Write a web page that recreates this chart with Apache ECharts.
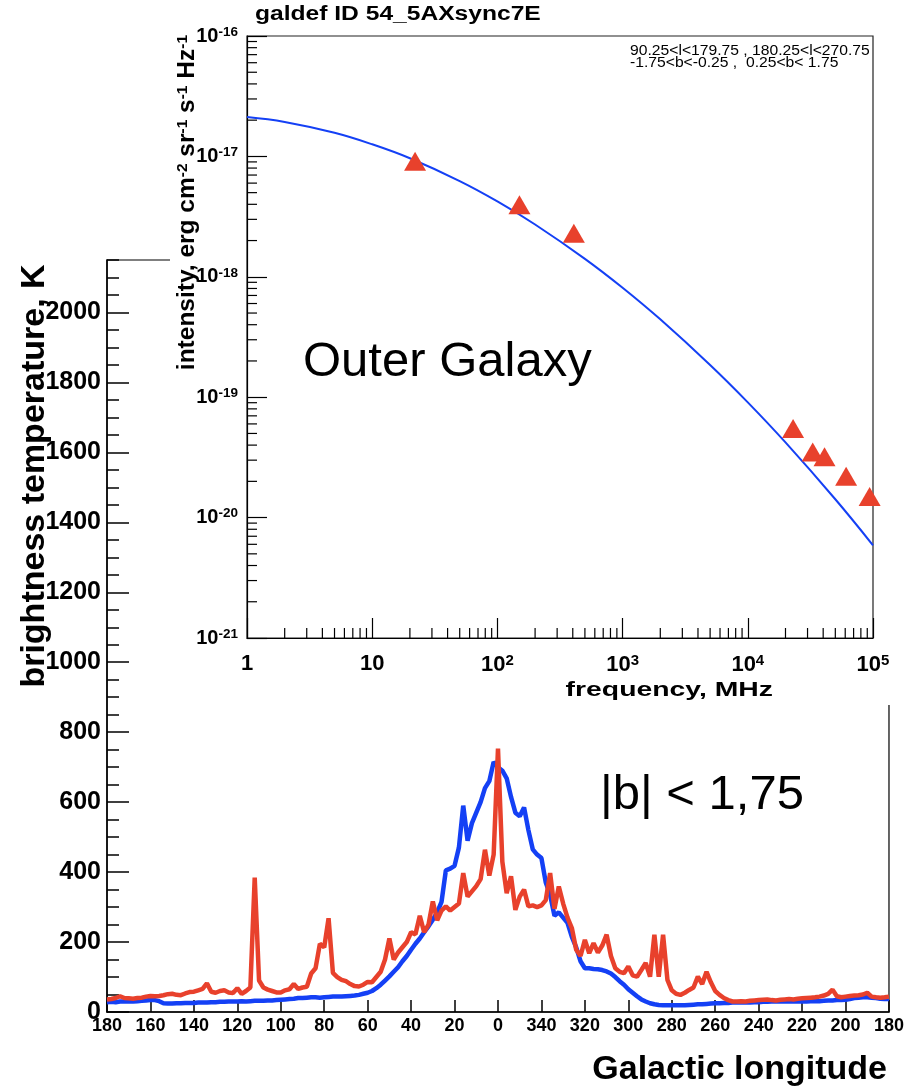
<!DOCTYPE html>
<html><head><meta charset="utf-8">
<script src="https://cdn.jsdelivr.net/npm/echarts@6/dist/echarts.min.js"></script>
<style>
html,body{margin:0;padding:0;background:#fff;}
#main{position:absolute;left:0;top:0;width:907px;height:1090px;}
#inset{position:absolute;left:170px;top:0;width:737px;height:705px;background:#fff;}
</style></head><body>
<div id="main"></div><div id="inset"></div>
<script>
// ---------- background chart data (samples every 2 deg, from l=180 through l=0 to l=180) ----------
const sampleStepDeg = 2;
const longitudeTickLabels = ['180','160','140','120','100','80','60','40','20','0','340','320','300','280','260','240','220','200','180'];
const blueK = [
 28,29,28,30,30,31,30,31,32,33,
 34,34,31,25,24,24,25,25,26,26,
 26,27,27,27,28,28,29,29,30,30,
 30,31,30,31,32,32,32,33,33,34,
 35,36,37,38,40,40,41,42,42,41,
 42,43,44,44,44,45,46,47,49,52,
 55,60,68,78,90,102,115,128,145,160,
 178,195,210,228,245,264,285,315,405,410,
 418,470,590,490,540,570,600,640,660,715,
 700,690,668,615,570,560,585,520,465,450,
 440,370,335,275,285,270,255,215,185,145,
 125,125,123,122,120,116,110,100,88,78,
 65,55,45,36,30,25,22,20,19,19,
 19,19,19,19,20,21,22,22,23,24,
 25,25,26,26,27,27,27,27,27,28,
 28,29,29,30,30,30,30,30,30,30,
 30,30,31,31,31,32,33,33,34,34,
 35,37,40,41,42,42,41,40,38,37,
 37];
const redK = [
 36,37,40,45,40,39,38,40,41,44,
 46,45,46,48,51,52,49,48,53,57,
 58,62,66,82,58,55,60,62,56,54,
 68,52,60,70,384,90,70,64,60,56,
 56,62,65,80,66,70,72,110,125,195,
 185,268,112,100,92,88,80,74,73,78,
 86,85,100,115,150,210,150,170,185,200,
 228,222,275,228,250,316,262,290,302,290,
 300,310,397,330,345,360,380,464,390,450,
 753,430,340,388,292,330,350,302,305,300,
 305,320,397,295,359,310,270,240,178,160,
 206,168,197,170,190,221,160,125,115,111,
 130,105,101,120,140,101,221,101,221,92,
 62,52,49,55,63,70,101,80,115,85,
 60,49,40,34,30,30,31,30,32,33,
 34,35,36,34,33,35,36,37,36,38,
 39,40,41,42,44,47,52,64,45,42,
 44,46,47,48,50,55,44,42,41,42,
 44];

// ---------- inset data ----------
const freqMHz = [1,2,5,10,20,50,100,200,500,1000,2000,5000,1e4,2e4,5e4,1e5];
const modelIntensity = [2.12e-17,1.93e-17,1.57e-17,1.26e-17,9.65e-18,6.24e-18,4.23e-18,2.72e-18,1.41e-18,8.11e-19,4.43e-19,1.85e-19,9.06e-20,4.21e-20,1.42e-20,5.89e-21];
const obsFreqMHz = [22,150,408,23000,33000,41000,61000,94000];
const obsIntensity = [9.1e-18,3.96e-18,2.3e-18,5.5e-20,3.5e-20,3.2e-20,2.2e-20,1.5e-20];
const intensityUnitExp = -21; // axis drawn in units of 1e-21

const RED = '#e8412c';
const BLUE = '#1440f5';
const FONT = 'Liberation Sans, Arial, Helvetica, sans-serif';

// ---------- main chart ----------
const main = echarts.init(document.getElementById('main'), null, {renderer:'canvas'});
main.setOption({
  animation:false,
  backgroundColor:'#fff',
  grid:{left:107, top:260, width:782, height:752, show:true, borderColor:'#000', borderWidth:1.2, backgroundColor:'transparent'},
  xAxis:{type:'value', min:0, max:360, interval:20,
    axisLine:{lineStyle:{color:'#000', width:1.5}},
    axisTick:{inside:true, length:12, lineStyle:{color:'#000', width:1.5}},
    axisLabel:{margin:5, color:'#000', fontFamily:FONT, fontWeight:'bold', fontSize:18,
      formatter:v=>longitudeTickLabels[Math.round(v/20)]},
    splitLine:{show:false}},
  yAxis:[
    {type:'value', min:0, max:2150, interval:200,
      axisLine:{show:true, lineStyle:{color:'#000', width:1.5}},
      axisTick:{inside:true, length:22, lineStyle:{color:'#000', width:1.5}},
      axisLabel:{margin:6, color:'#000', fontFamily:FONT, fontWeight:'bold', fontSize:25, showMaxLabel:false,
        formatter:v=>String(v)},
      splitLine:{show:false}},
    {type:'value', min:0, max:2150, interval:50, position:'left',
      axisLine:{show:false},
      axisTick:{inside:true, length:12, lineStyle:{color:'#000', width:1.5}},
      axisLabel:{show:false}, splitLine:{show:false}}
  ],
  series:[
    {type:'line', name:'blue', showSymbol:false, data:blueK.map((v,i)=>[i*sampleStepDeg, v]),
      lineStyle:{color:BLUE, width:4.5}, itemStyle:{color:BLUE}, z:2},
    {type:'line', name:'red', showSymbol:false, data:redK.map((v,i)=>[i*sampleStepDeg, v]),
      lineStyle:{color:RED, width:4.5}, itemStyle:{color:RED}, z:3}
  ],
  graphic:[
    {type:'text', x:35, y:476, rotation:Math.PI/2,
      style:{text:'brightness temperature, K', font:'bold 34px '+FONT, fill:'#000', align:'center', verticalAlign:'middle'}},
    {type:'text', x:887, y:1070,
      style:{text:'Galactic longitude', font:'bold 34px '+FONT, fill:'#000', align:'right', verticalAlign:'middle'}},
    {type:'text', x:600, y:795,
      style:{text:'|b| < 1,75', font:'49px '+FONT, fill:'#000', align:'left', verticalAlign:'middle'}}
  ]
});

// ---------- inset chart ----------
const inset = echarts.init(document.getElementById('inset'), null, {renderer:'canvas'});
const supRich = {
  b:{fontFamily:FONT, fontWeight:'bold', fontSize:22, color:'#000'},
  sup:{fontFamily:FONT, fontWeight:'bold', fontSize:15, color:'#000', verticalAlign:'top', padding:[0,0,8,0]}
};
const ySupRich = {
  b:{fontFamily:FONT, fontWeight:'bold', fontSize:20, color:'#000'},
  sup:{fontFamily:FONT, fontWeight:'bold', fontSize:13.5, color:'#000', verticalAlign:'top', padding:[0,0,8,0]}
};
const scaleI = v => v / Math.pow(10, intensityUnitExp);
const xMinor = [], yMinor = [];
for (let d=0; d<5; d++) for (let m=2; m<=9; m++) { xMinor.push([m*Math.pow(10,d), 1]); yMinor.push([1, m*Math.pow(10,d)]); }

inset.setOption({
  animation:false,
  grid:{left:77, top:36, width:626, height:602, show:true, borderColor:'#222', borderWidth:1.2, backgroundColor:'#fff'},
  xAxis:{type:'log', logBase:10, min:1, max:1e5,
    axisLine:{lineStyle:{color:'#000', width:1.2}},
    axisTick:{inside:true, length:20, lineStyle:{color:'#000', width:1.2}},
    axisLabel:{margin:15, color:'#000', rich:supRich,
      formatter:v=>{const e=Math.round(Math.log10(v)); return e===0?'{b|1}':(e===1?'{b|10}':'{b|10}{sup|'+e+'}');}},
    splitLine:{show:false}, minorTick:{show:false}},
  yAxis:{type:'log', logBase:10, min:1, max:1e5,
    axisLine:{lineStyle:{color:'#000', width:1.2}},
    axisTick:{inside:true, length:20, lineStyle:{color:'#000', width:1.2}},
    axisLabel:{margin:9, color:'#000', rich:ySupRich,
      formatter:v=>{const e=Math.round(Math.log10(v))+intensityUnitExp; return '{b|10}{sup|'+e+'}';}},
    splitLine:{show:false}, minorTick:{show:false}},
  series:[
    {type:'line', data:freqMHz.map((f,i)=>[f, scaleI(modelIntensity[i])]), smooth:0.4, showSymbol:false,
      lineStyle:{color:BLUE, width:2}, itemStyle:{color:BLUE}, z:3},
    {type:'scatter', data:obsFreqMHz.map((f,i)=>[f, scaleI(obsIntensity[i])]), symbol:'triangle', symbolSize:[22,19],
      itemStyle:{color:RED, opacity:1}, z:4},
    {type:'custom', data:xMinor, clip:false, silent:true, z:5,
      renderItem:(p,api)=>{const pt=api.coord([api.value(0),api.value(1)]);
        return {type:'line', shape:{x1:pt[0],y1:pt[1],x2:pt[0],y2:pt[1]-10}, style:{stroke:'#000', lineWidth:1.2}};}},
    {type:'custom', data:yMinor, clip:false, silent:true, z:5,
      renderItem:(p,api)=>{const pt=api.coord([api.value(0),api.value(1)]);
        return {type:'line', shape:{x1:pt[0],y1:pt[1],x2:pt[0]+10,y2:pt[1]}, style:{stroke:'#000', lineWidth:1.2}};}}
  ],
  graphic:[
    {type:'text', x:85, y:14, style:{text:'galdef ID 54_5AXsync7E', font:'bold 20px '+FONT, fill:'#000', align:'left', verticalAlign:'middle'}, scaleX:1.23},
    {type:'text', x:460, y:51, style:{text:'90.25<l<179.75 , 180.25<l<270.75', font:'14px '+FONT, fill:'#000', align:'left', verticalAlign:'middle'}, scaleX:1.12},
    {type:'text', x:460, y:63, style:{text:'-1.75<b<-0.25 ,  0.25<b< 1.75', font:'14px '+FONT, fill:'#000', align:'left', verticalAlign:'middle'}, scaleX:1.12},
    {type:'text', x:133, y:362, style:{text:'Outer Galaxy', font:'49px '+FONT, fill:'#000', align:'left', verticalAlign:'middle'}},
    {type:'text', x:603, y:690, style:{text:'frequency, MHz', font:'bold 21px '+FONT, fill:'#000', align:'right', verticalAlign:'middle'}, scaleX:1.35},
    {type:'text', x:17, y:35, rotation:Math.PI/2,
      style:{text:'{b|intensity, erg cm}{sup|-2}{b| sr}{sup|-1}{b| s}{sup|-1}{b| Hz}{sup|-1}', rich:{
        b:{fontFamily:FONT, fontWeight:'bold', fontSize:24.5, fill:'#000'},
        sup:{fontFamily:FONT, fontWeight:'bold', fontSize:15.5, fill:'#000', verticalAlign:'top', padding:[0,0,9,0]}},
        align:'right', verticalAlign:'middle'}}
  ]
});
</script>
</body></html>
